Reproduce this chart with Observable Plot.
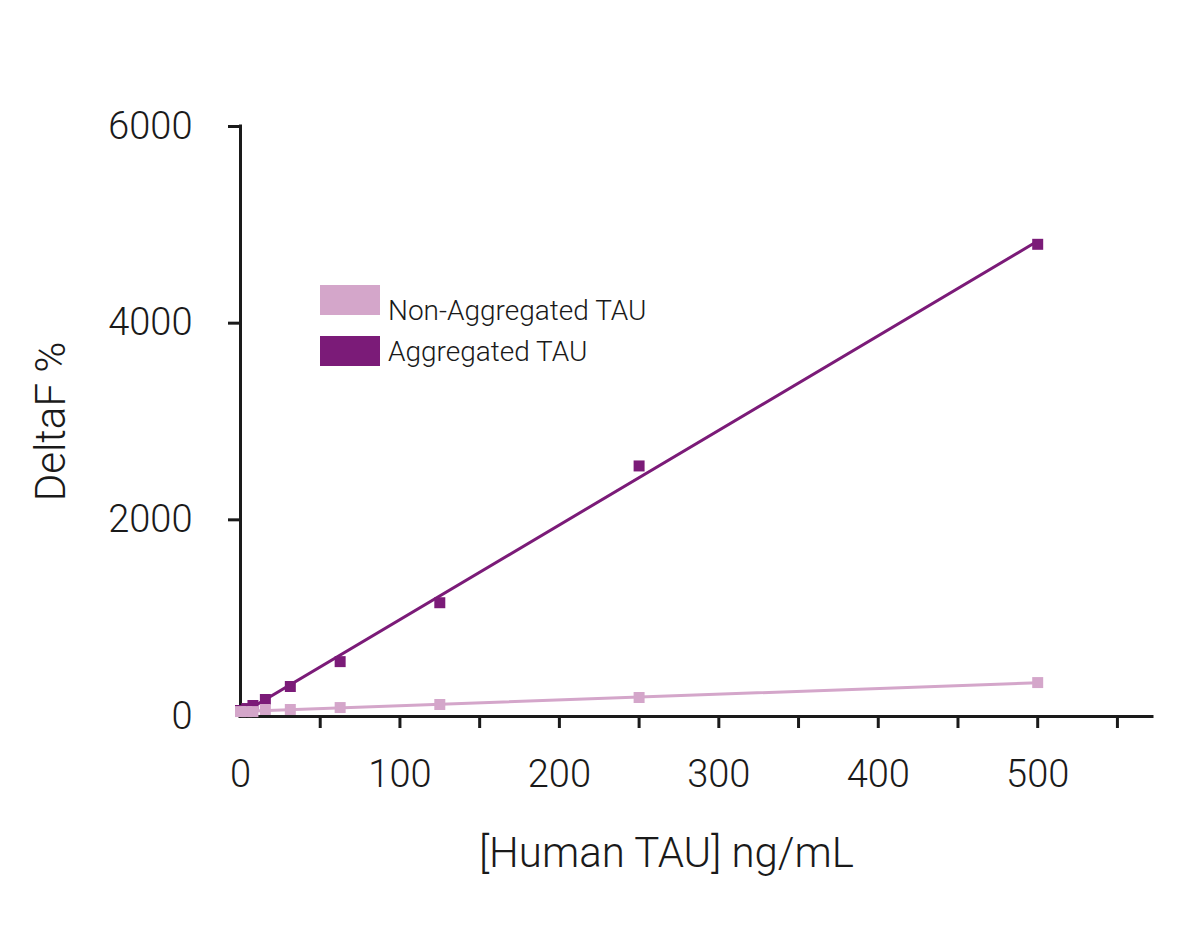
<!DOCTYPE html>
<html>
<head>
<meta charset="utf-8">
<script src="https://cdn.jsdelivr.net/npm/d3@7"></script>
<script src="https://cdn.jsdelivr.net/npm/@observablehq/plot@0.6"></script>
<style>
  html, body { margin: 0; padding: 0; background: #fff; }
  #wrap { position: relative; width: 1200px; height: 940px; font-family: Roboto, "Noto Sans", sans-serif; }
  #legend { position: absolute; left: 320px; top: 285px; font-weight: 300; font-size: 28px; color: #1a1a1a; }
  #legend .row { display: flex; align-items: center; height: 30px; margin-bottom: 21px; }
  #legend .row:first-child span { position: relative; top: 10px; }
  #legend .sw { width: 60px; height: 30px; margin-right: 8px; }
  g[aria-label="y-axis label"] text { font-size: 42px; }
</style>
</head>
<body>
<div id="wrap"><div id="chart"></div><div id="legend"></div></div>
<script>
const concentration = [0, 3.9, 7.8, 15.6, 31.25, 62.5, 125, 250, 500];
const aggregated = [61, 81, 112, 173, 305, 558, 1157, 2548, 4802];
const nonAggregated = [50, 50, 50, 71, 71, 91, 122, 193, 345];
const seriesNames = ["Non-Aggregated TAU", "Aggregated TAU"];
const seriesColors = ["#d4a6ca", "#7b1b78"];
const yTicks = [0, 2000, 4000, 6000];
const xMinorTicks = d3.range(50, 551, 50);
const xLabelTicks = [0, 100, 200, 300, 400, 500];
const xTitle = "[Human TAU] ng/mL";
const yTitle = "DeltaF %";

const aggData = concentration.map((c, i) => ({x: c, y: aggregated[i]}));
const nonData = concentration.map((c, i) => ({x: c, y: nonAggregated[i]}));
const ink = "#1a1a1a";

const chart = Plot.plot({
  width: 1200,
  height: 940,
  marginLeft: 240,
  marginRight: 48,
  marginTop: 126,
  marginBottom: 224,
  style: {fontFamily: "Roboto, 'Noto Sans', sans-serif", fontSize: "38px", fontWeight: 300, color: ink, background: "#fff"},
  x: {domain: [0, 572]},
  y: {domain: [0, 6000]},
  marks: [
    Plot.axisY(yTicks.filter(d => d > 0), {tickSize: 12, strokeWidth: 3, stroke: ink, tickFormat: () => "", label: null}),
    Plot.axisY(yTicks, {tickSize: 0, tickPadding: 48, tickFormat: d => String(d), label: yTitle, labelAnchor: "center", labelOffset: 205, labelArrow: "none"}),
    Plot.axisX(xMinorTicks, {tickSize: 12, strokeWidth: 3, stroke: ink, tickFormat: () => "", label: null}),
    Plot.axisX(xLabelTicks, {tickSize: 0, tickPadding: 44, tickFormat: d => String(d), label: null}),
    Plot.text([xTitle], {frameAnchor: "bottom", text: d => d, dx: -30, dy: 137, lineAnchor: "middle", fontSize: 42, fill: ink}),
    Plot.ruleX([0], {stroke: ink, strokeWidth: 3, strokeLinecap: "square"}),
    Plot.ruleY([0], {stroke: ink, strokeWidth: 3, strokeLinecap: "square"}),
    Plot.linearRegressionY(aggData, {x: "x", y: "y", stroke: seriesColors[1], strokeWidth: 3, ci: 0}),
    Plot.dot(aggData, {x: "x", y: "y", symbol: "square", r: 6.2, fill: seriesColors[1], stroke: "none"}),
    Plot.linearRegressionY(nonData, {x: "x", y: "y", stroke: seriesColors[0], strokeWidth: 3, ci: 0}),
    Plot.dot(nonData, {x: "x", y: "y", symbol: "square", r: 6.2, fill: seriesColors[0], stroke: "none"})
  ]
});
document.getElementById("chart").appendChild(chart);

const legend = document.getElementById("legend");
seriesNames.forEach((name, i) => {
  const row = document.createElement("div");
  row.className = "row";
  const sw = document.createElement("div");
  sw.className = "sw";
  sw.style.background = seriesColors[i];
  const label = document.createElement("span");
  label.textContent = name;
  row.appendChild(sw);
  row.appendChild(label);
  legend.appendChild(row);
});
</script>
</body>
</html>
